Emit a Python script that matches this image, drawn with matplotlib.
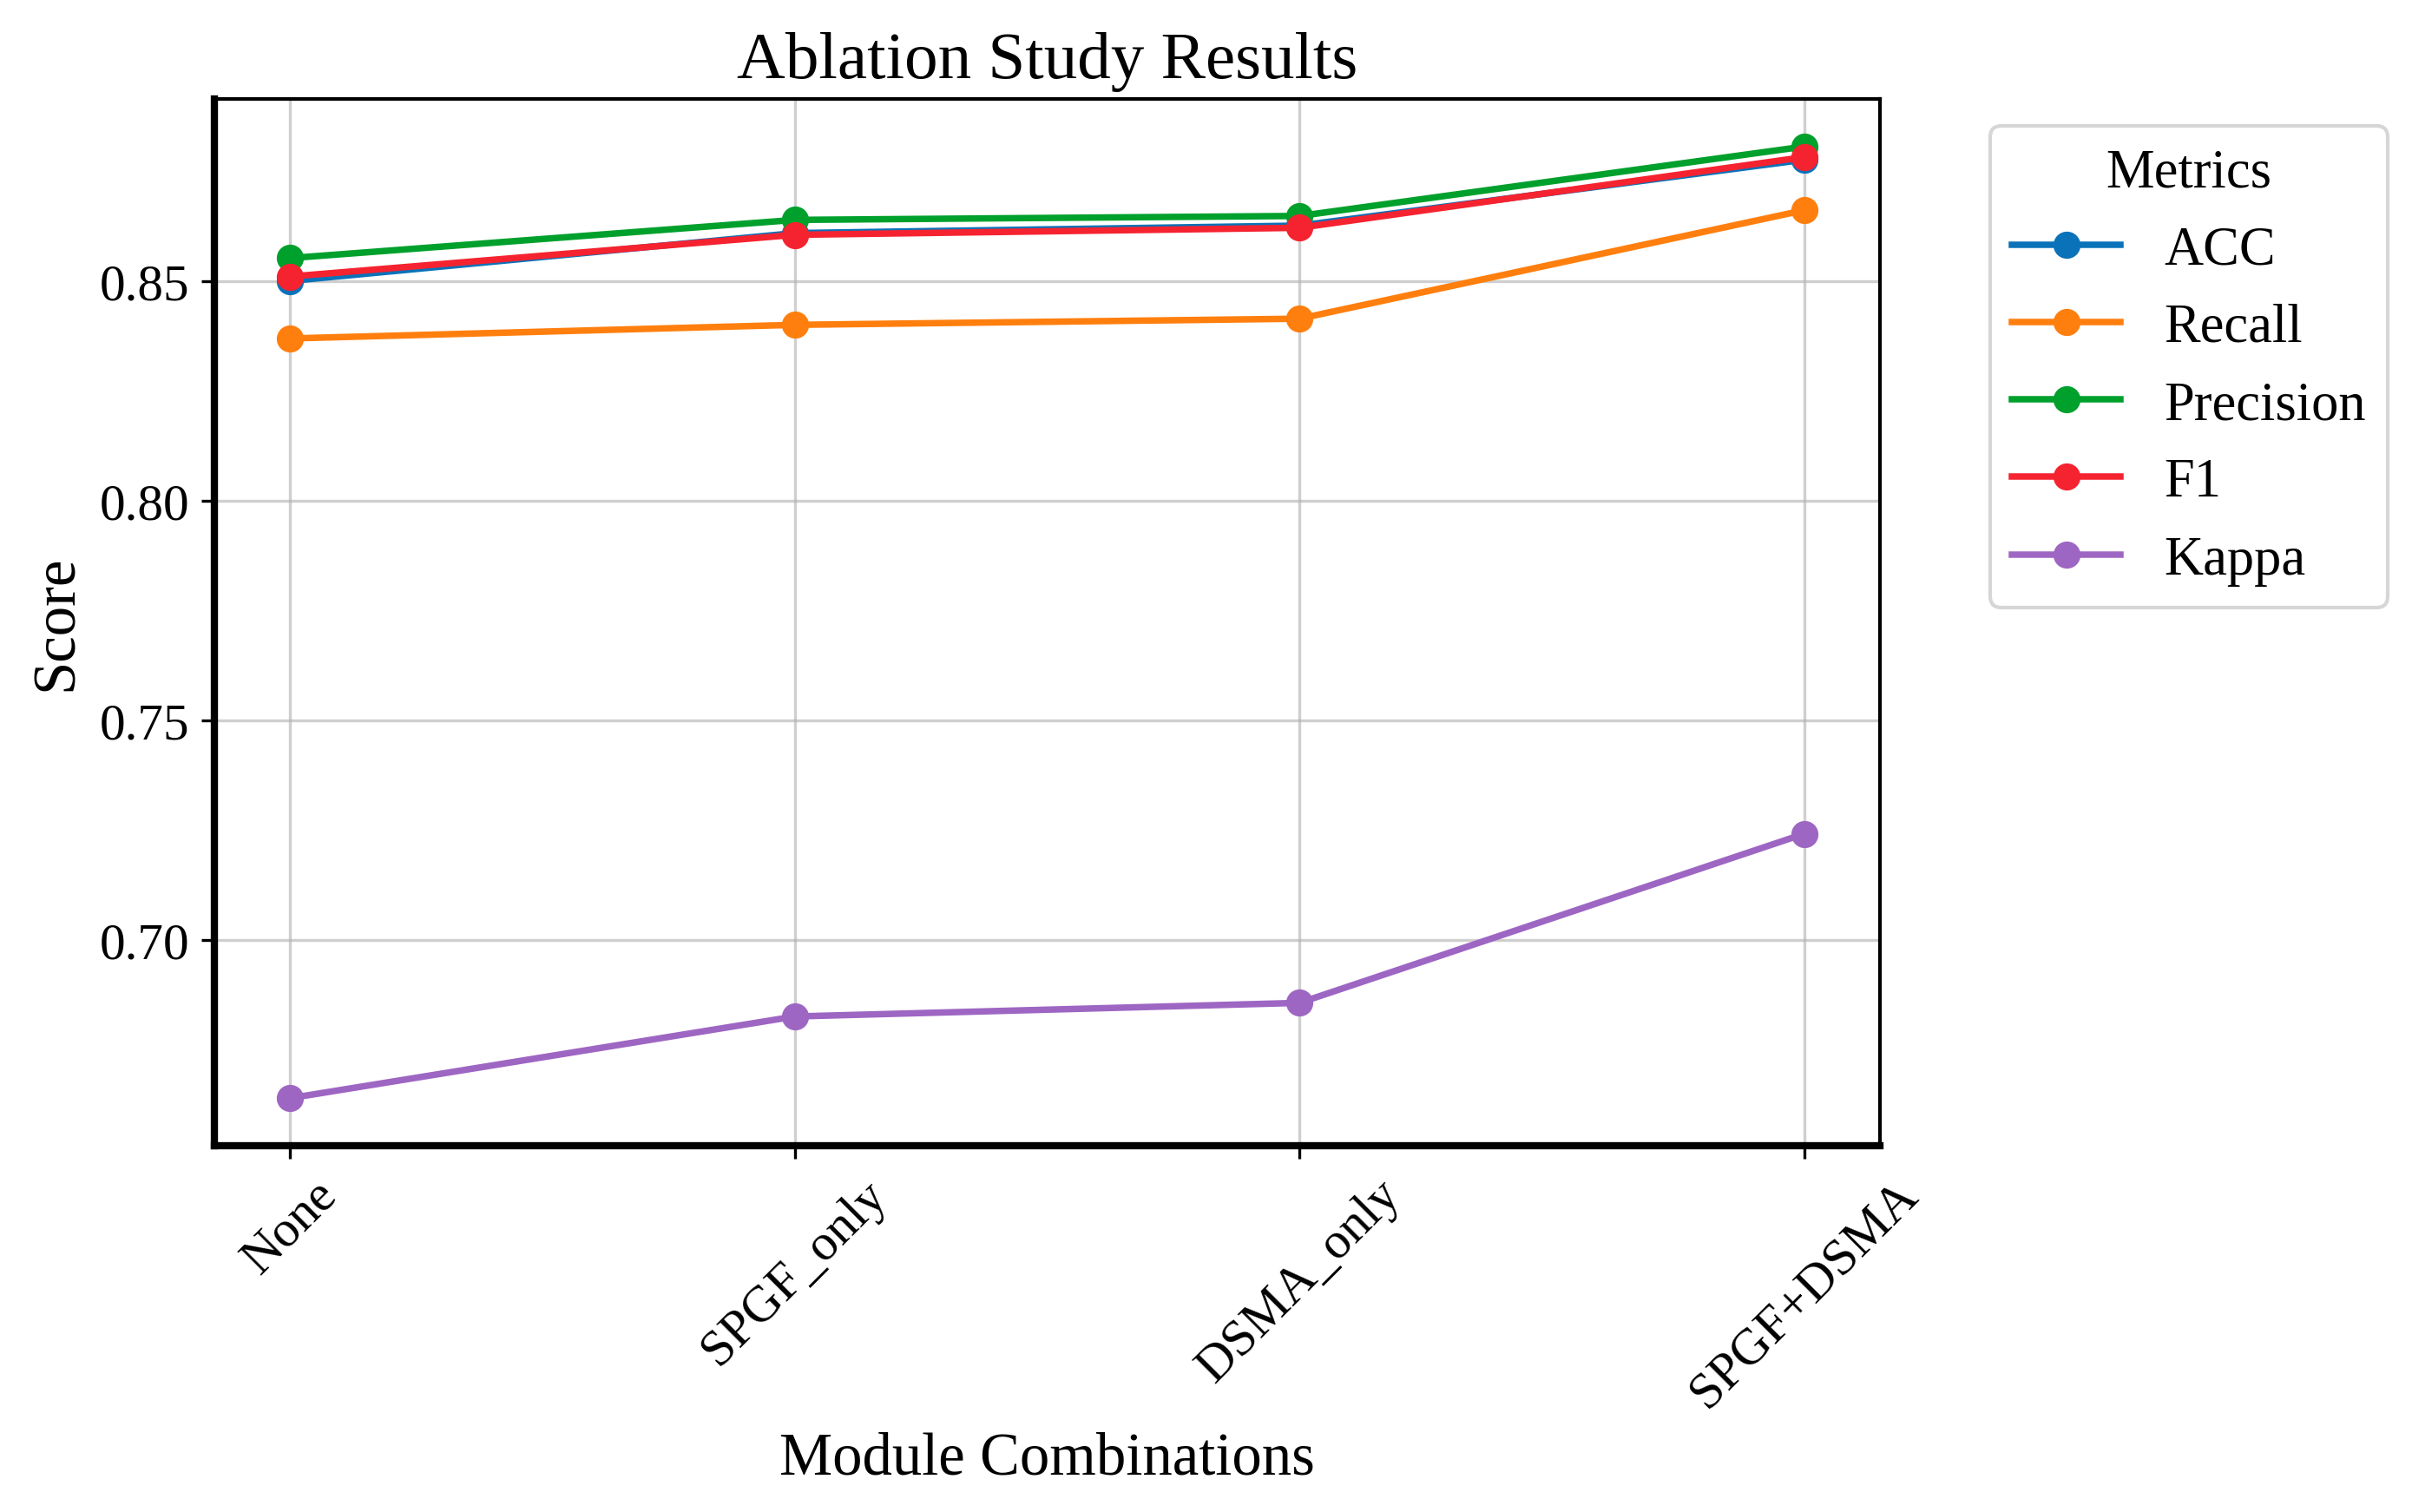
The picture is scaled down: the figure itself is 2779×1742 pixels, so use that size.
import numpy as np
import matplotlib
matplotlib.use('Agg')
import matplotlib.pyplot as plt

# PARAMS ----------------------------------------------------------------------
plt.rcParams['font.family'] = ['Liberation Serif', 'DejaVu Serif']
plt.rc('axes', titlesize=18.5, labelsize=16.5)
plt.rc('xtick', labelsize=14.2)
plt.rc('ytick', labelsize=14.2)
plt.rc('legend', fontsize=15, title_fontsize=15)
# END PARAMS ------------------------------------------------------------------

combinations = ['None', 'SPGF_only', 'DSMA_only', 'SPGF+DSMA']
metrics = ['ACC', 'Recall', 'Precision', 'F1', 'Kappa']

acc = [0.8500, 0.8609, 0.8626, 0.8776]
recall = [0.8369, 0.8400, 0.8414, 0.8661]
precision = [0.8552, 0.8639, 0.8648, 0.8806]
f1 = [0.8510, 0.8605, 0.8621, 0.8782]
kappa = [0.6639, 0.6825, 0.6856, 0.7241]

colors = ['#0a72b8', '#ff7f0e', '#00a02c', '#f52330', '#9e66c3']

fig = plt.figure(figsize=(2779 / 300, 1743 / 300), dpi=300)
ax = fig.add_axes([0.0889, 0.2421, 0.6905, 0.6919])

x = np.arange(len(combinations))
for name, vals, col in zip(metrics, [acc, recall, precision, f1, kappa], colors):
    ax.plot(x, vals, marker='o', color=col, linewidth=1.8, markersize=6.5, label=name)

ax.set_xticks(x)
ax.set_xticklabels(combinations, rotation=45)
ax.set_yticks([0.70, 0.75, 0.80, 0.85])
ax.set_title('Ablation Study Results')
ax.set_xlabel('Module Combinations')
ax.set_ylabel('Score')
ax.grid(True, color='#b0b0b0', alpha=0.6, linewidth=0.8)

ax.spines['left'].set_linewidth(2)
ax.spines['bottom'].set_linewidth(2)
ax.spines['top'].set_linewidth(1)
ax.spines['right'].set_linewidth(1)

ax.legend(title='Metrics', loc='upper left', bbox_to_anchor=(1.05, 1))

plt.savefig('out.png', dpi=300)
plt.close(fig)
